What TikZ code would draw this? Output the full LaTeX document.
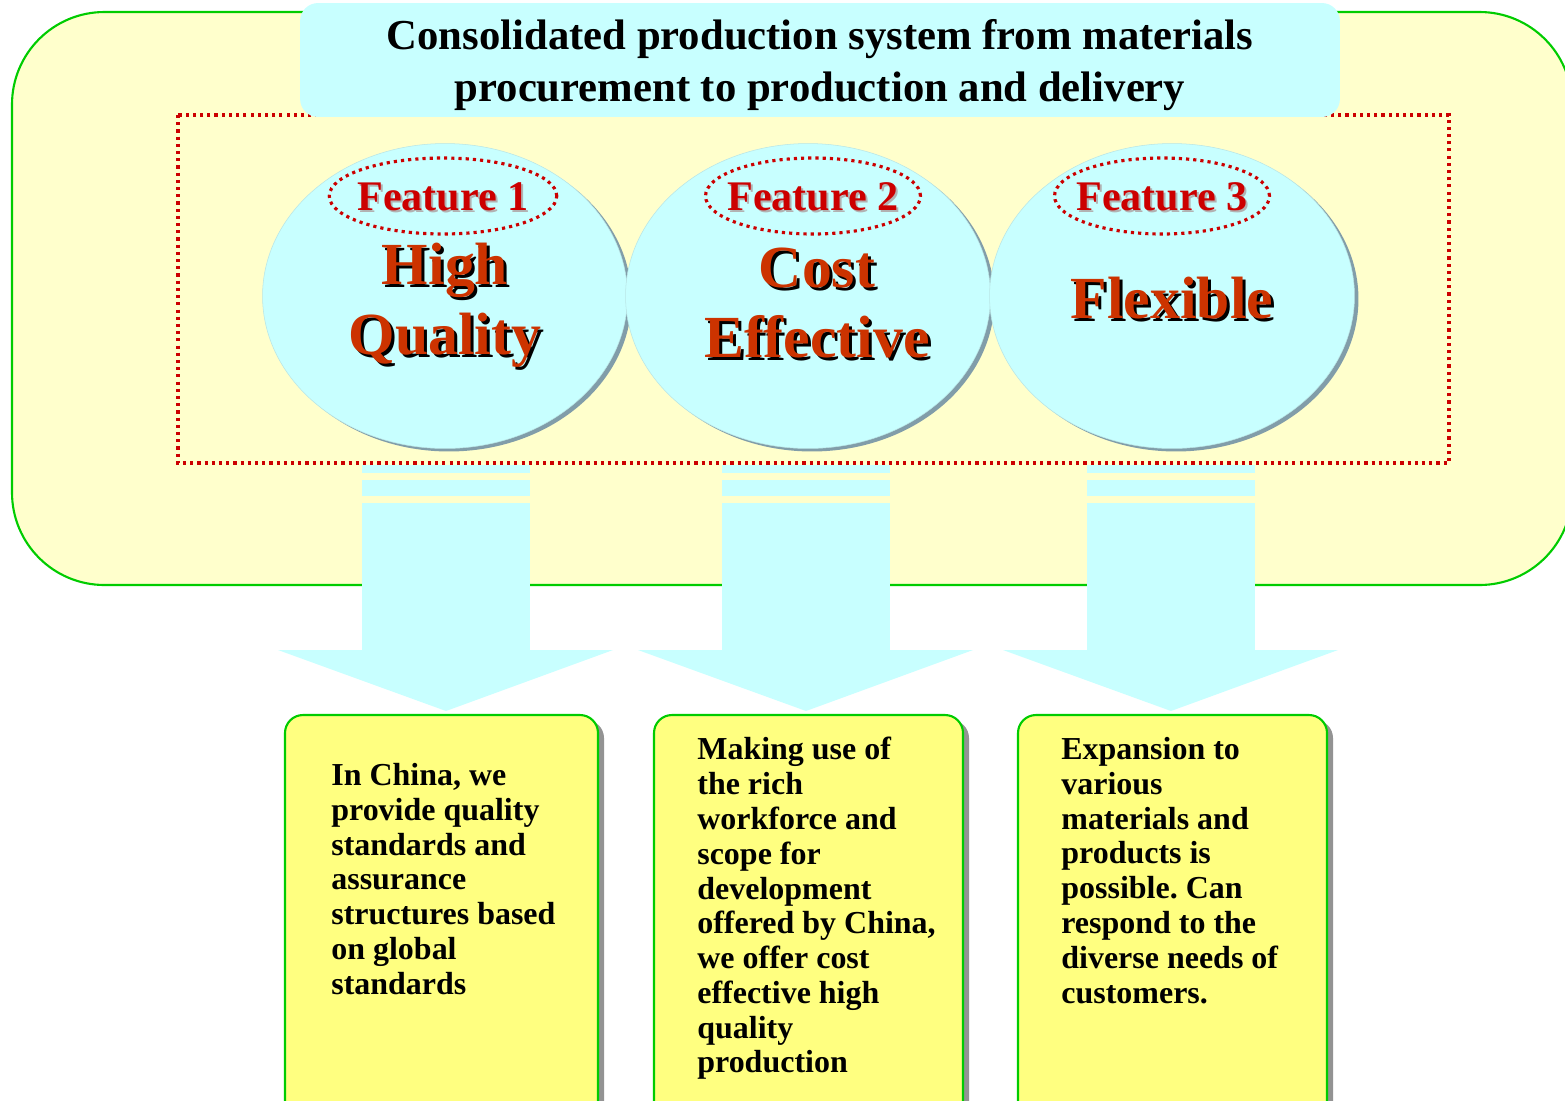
\documentclass[tikz,border=0pt]{standalone}
\usepackage{fontspec}
\setmainfont{Liberation Serif}
\usetikzlibrary{shapes.geometric}
\frenchspacing
\definecolor{bgyel}{HTML}{FFFFCC}
\definecolor{grn}{HTML}{00CC00}
\definecolor{cyn}{HTML}{C8FFFF}
\definecolor{dred}{HTML}{CC0000}
\definecolor{orred}{HTML}{CC3300}
\definecolor{boxyel}{HTML}{FFFF80}
\tikzset{
  x=0.02cm, y=-0.02cm,
  reddots/.style={draw=dred, line width=1.8pt, dash pattern=on 1.8pt off 2.3pt},
  bigell/.style={ellipse, fill=cyn, draw=cyn!80!gray, line width=0.3pt, minimum width=7.3cm, minimum height=6.1cm, inner sep=0pt},
  shadell/.style={ellipse, fill=gray!75!cyan, minimum width=7.3cm, minimum height=6.1cm, inner sep=0pt},
  featell/.style={ellipse, reddots, minimum height=1.52cm, inner sep=0pt},
  feattxt/.style={text=dred, font=\bfseries\fontsize{24}{28}\selectfont},
  featshadow/.style={text=gray!60, font=\bfseries\fontsize{24}{28}\selectfont},
  bigtxt/.style={text=orred, align=center, font=\bfseries\fontsize{34}{40}\selectfont},
  bigshadow/.style={text=black, align=center, font=\bfseries\fontsize{34}{40}\selectfont},
  infobox/.style={draw=grn, line width=1.2pt, fill=boxyel, rounded corners=0.36cm},
  infoshadow/.style={fill=gray!85, rounded corners=0.36cm},
  infotxt/.style={align=left, anchor=north west, inner sep=0pt, font=\bfseries\fontsize{18.2}{19.8}\selectfont},
  arrowfill/.style={fill=cyn, draw=none}
}
\begin{document}
\begin{tikzpicture}
\useasboundingbox (0,0) rectangle (1565,1100);
\clip (0,0) rectangle (1565,1100);
% big background
\fill[white] (0,0) rectangle (1565,1100);
\draw[draw=grn, line width=1.2pt, fill=bgyel, rounded corners=1.85cm] (12,12) rectangle (1572,585);
% red dotted frame
\draw[reddots] (178,115) rectangle (1449,463);
% title
\node[fill=cyn, rounded corners=0.36cm, minimum width=20.8cm, minimum height=2.28cm, inner sep=0pt] (title) at (820,60) {};
\node[align=center, font=\bfseries\fontsize{24.3}{29.5}\selectfont] (titletext) at (820,65)
  {Consolidated production system from materials\\procurement to production and delivery};
% ellipses
\foreach \cx/\n in {445/1, 808/2, 1172/3}{
  \node[shadell] at (\cx+4,299) {};
  \node[bigell] (ell\n) at (\cx,296) {};
}
\node[featell, minimum width=4.55cm] (f1) at (443,196) {};
\node[featell, minimum width=4.3cm] (f2) at (813,196) {};
\node[featell, minimum width=4.3cm] (f3) at (1162,196) {};
\node[featshadow] at (445,199) {Feature 1};
\node[featshadow] at (815,199) {Feature 2};
\node[featshadow] at (1164,199) {Feature 3};
\node[feattxt] (f1t) at (443,197) {Feature 1};
\node[feattxt] (f2t) at (813,197) {Feature 2};
\node[feattxt] (f3t) at (1162,197) {Feature 3};
% big texts with shadows
\node[bigshadow] at (448,308) {High\\Quality};
\node[bigtxt] (hq) at (445,305) {High\\Quality};
\node[bigshadow] at (820,306) {Cost\\Effective};
\node[bigtxt] (ce) at (817,303) {Cost\\Effective};
\node[bigshadow] at (1175,301) {Flexible};
\node[bigtxt] (fx) at (1172,298) {Flexible};
% arrows
\foreach \cx/\n in {446/1, 806/2, 1171/3}{
  \fill[arrowfill] (\cx-84,465) rectangle (\cx+84,473);
  \fill[arrowfill] (\cx-84,480) rectangle (\cx+84,496);
  \fill[arrowfill] (\cx-84,503) rectangle (\cx+84,651);
  \fill[arrowfill] (\cx-168,650) -- (\cx+167,650) -- (\cx,711) -- cycle;
  \coordinate (tip\n) at (\cx,711);
}
% boxes
\fill[infoshadow] (290,720) rectangle (604,1130);
\draw[infobox] (285,715) rectangle (598,1125);
\fill[infoshadow] (659,720) rectangle (969,1130);
\draw[infobox] (654,715) rectangle (963,1125);
\fill[infoshadow] (1023,720) rectangle (1333,1130);
\draw[infobox] (1018,715) rectangle (1327,1125);
\node[infotxt] (t1) at (331,763) {In China, we\\provide quality\\standards and\\assurance\\structures based\\on global\\standards};
\node[infotxt] (t2) at (697,737) {Making use of\\the rich\\workforce and\\scope for\\development\\offered by China,\\we offer cost\\effective high\\quality\\production};
\node[infotxt] (t3) at (1061,737) {Expansion to\\various\\materials and\\products is\\possible. Can\\respond to the\\diverse needs of\\customers.};
\end{tikzpicture}
\end{document}
